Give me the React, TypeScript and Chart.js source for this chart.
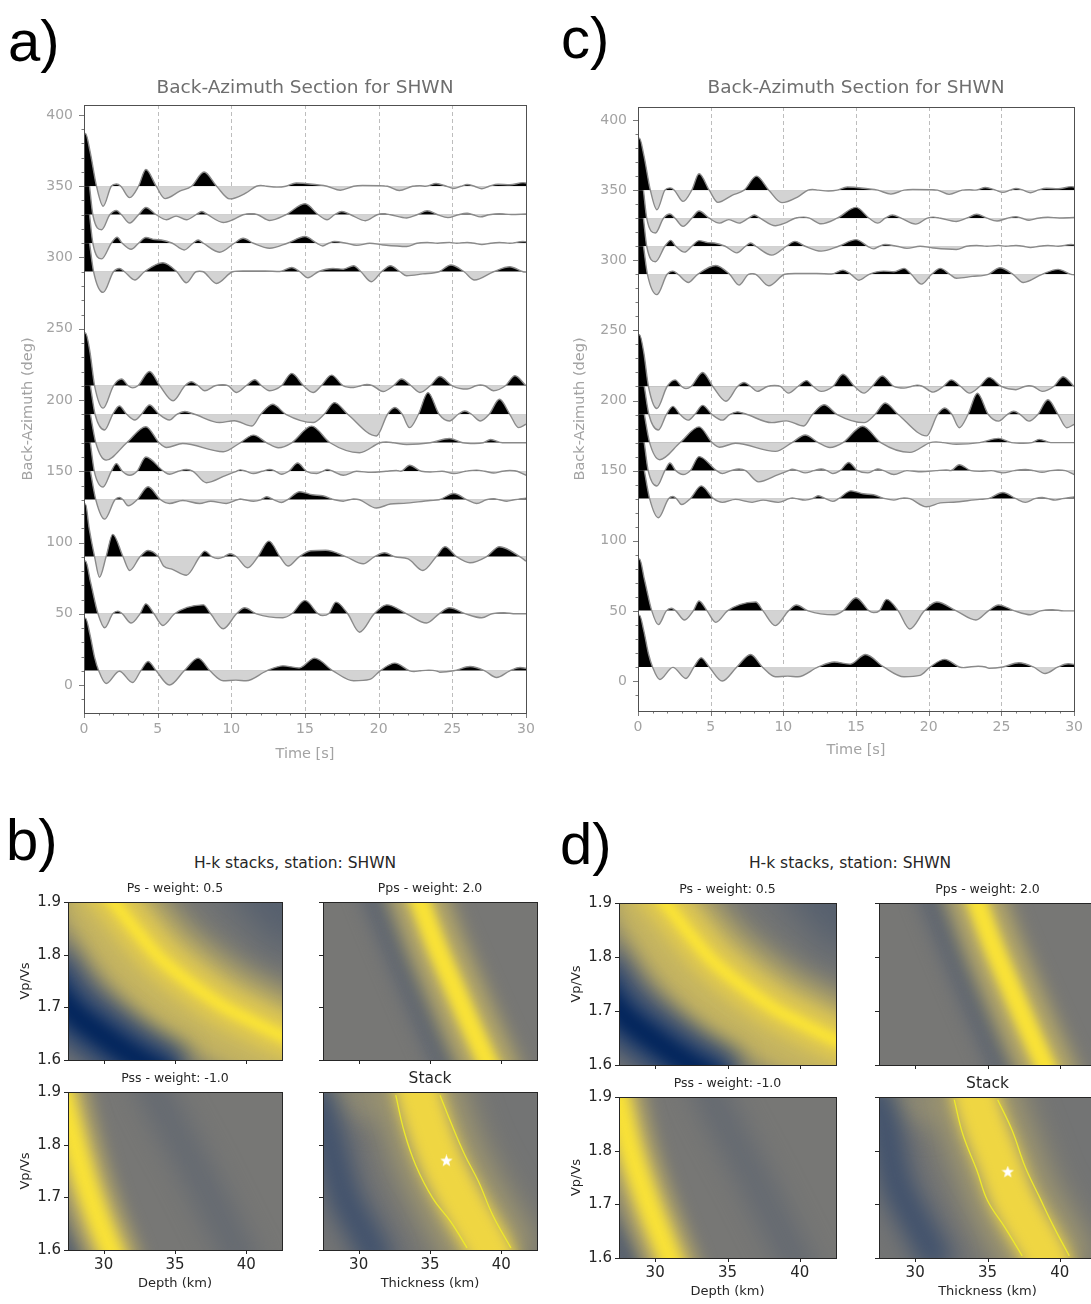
import React, { useEffect, useRef } from 'react';
import { Chart, registerables } from 'chart.js';

Chart.register(...registerables);

const FONT = '"DejaVu Sans", sans-serif';

// ---------------- Back-azimuth section data ----------------
const timeTickValues = [0, 5, 10, 15, 20, 25, 30];
const timeGridValues = [5, 10, 15, 20, 25];
const bazTickValues = [0, 50, 100, 150, 200, 250, 300, 350, 400];
const sectionBinsA = [350, 330, 310, 290, 210, 190, 170, 150, 130, 90, 50, 10];
const sectionBinsC = [350, 330, 310, 290, 210, 190, 170, 150, 130, 50, 10];

// [time (s), amplitude (deg units)]
const rf350 = [[0,36],[0.1,37],[0.4,25],[0.85,0],[1.3,-14],[1.85,0],[2.2,1.6],[2.5,0],[3.1,-8],[3.7,0],[4.2,11.7],[4.9,0],[5.5,-8.7],[6.5,-3.5],[7.3,0],[8.15,10],[9.0,0],[9.9,-8.9],[11.0,-4.7],[11.7,0],[12.0,0.5],[12.4,0],[13.1,-0.6],[13.7,0],[14.4,2.3],[15.8,1.0],[16.5,0],[17.4,-2.8],[18.3,0],[18.9,0.5],[20.1,0.3],[20.6,0],[21.4,-3],[22.3,0],[22.8,0.3],[23.2,0],[23.9,1.9],[24.6,0],[25.1,-1.6],[25.6,0],[26.0,1.2],[26.5,0],[27.0,-1.8],[27.5,0],[28.1,1.4],[28.9,1.0],[29.8,2.5],[30,2.3]];
const rf330 = [[0,36],[0.1,37],[0.35,22],[0.6,0],[1.2,-10.5],[1.75,0],[2.2,3],[2.55,0],[3.1,-5.8],[3.7,0],[4.2,5.1],[4.9,0],[5.6,-3.5],[6.25,-1],[6.95,-3.5],[7.6,0],[8.0,2.3],[8.4,0],[9.45,-5.4],[10.1,-3.5],[10.8,0],[11.4,0.8],[11.8,0],[12.6,-4],[13.7,0],[15.0,7.7],[15.9,0],[16.5,-3.5],[17.0,0],[17.5,2.3],[18.1,0],[19.1,-4.2],[19.9,0],[20.3,0.8],[20.8,0],[21.9,-2.3],[22.6,0],[23.3,2.8],[24.0,0],[24.7,-2],[25.4,0],[26.0,1],[26.4,0],[26.9,-1.5],[27.5,0],[28.2,0.7],[29.0,0.2],[30,0.5]];
const rf310 = [[0,36],[0.1,37],[0.35,22],[0.6,0],[1.2,-11],[1.85,0],[2.25,4.2],[2.6,0],[3.2,-4.2],[3.7,0],[4.2,4],[4.8,2.6],[5.25,2.3],[6.0,0],[6.8,-4.7],[7.4,0],[7.75,2.3],[8.1,0],[9.2,-6.3],[10.2,0],[10.8,3.5],[11.5,0],[12.6,-3.5],[13.8,0],[15.0,4.7],[15.8,0],[16.2,-1.9],[16.6,0],[17.0,1.2],[17.8,0],[18.5,-1.5],[19.4,0],[20.3,-1.2],[21.9,-2.3],[22.6,0],[23.3,0.5],[24.0,0],[24.8,0.6],[25.3,0],[26.0,0.5],[26.5,0],[27.0,-1],[27.6,0],[28.2,0.5],[28.9,0],[29.8,1.2],[30,1.1]];
const rf290 = [[0,36],[0.1,37],[0.35,22],[0.65,0],[1.3,-14.5],[2.0,0],[2.4,2.3],[2.75,0],[3.45,-5.8],[4.1,0],[5.35,6.3],[6.3,0],[6.95,-7.7],[7.6,0],[7.85,0.4],[8.1,0],[9.0,-8.2],[10.1,0],[10.8,0.6],[12.3,0.6],[13.3,0.2],[14.1,3],[14.65,0],[15.2,-4.2],[15.9,0],[16.9,2.3],[17.6,1.8],[18.3,4.2],[18.8,0],[19.5,-7],[20.2,0],[20.8,4.2],[21.45,0],[21.9,-2.8],[23.0,-1.5],[24.1,0],[24.9,4.7],[25.8,0],[26.5,-5.8],[27.8,0],[28.9,3.5],[29.8,0],[30,-0.3]];
const rf210 = [[0,36],[0.1,37],[0.4,24],[0.72,0],[1.3,-15.7],[2.0,0],[2.55,4.7],[3.0,0],[3.3,-1.5],[3.65,0],[4.45,10],[5.15,0],[6.05,-10.5],[6.85,0],[7.3,2.8],[7.75,0],[8.2,-3.5],[8.9,0],[9.4,0.8],[9.8,0],[10.35,-4.7],[11.0,0],[11.6,4.2],[12.05,0],[12.6,-3.5],[13.4,0],[14.1,8.7],[14.9,0],[15.55,-4.7],[16.1,0],[16.8,7.5],[17.6,0],[18.3,-1.2],[18.8,0],[19.2,1],[19.6,0],[20.3,-4],[21.0,0],[21.55,4.7],[22.2,0],[22.8,-4.7],[23.5,0],[24.15,6.5],[25.0,0],[26.0,-2.3],[26.6,0],[26.9,0.5],[27.2,0],[27.8,-3.5],[28.6,0],[29.25,7],[30,0]];
const rf190 = [[0,36],[0.1,37],[0.4,22],[0.75,0],[1.4,-11],[1.95,0],[2.4,5.8],[2.9,0],[3.45,-4],[3.9,0],[4.45,6.5],[5.1,0],[5.8,-4],[6.3,0],[6.85,1.9],[7.5,0],[9.2,-5.8],[10.2,-4.5],[11.4,-8.2],[12.0,0],[12.8,7],[13.7,0],[15.55,-5.8],[16.3,0],[17.0,8.2],[17.9,0],[19.85,-15.2],[20.6,0],[21.1,4.7],[21.6,0],[22.1,-9.4],[22.7,0],[23.35,15.2],[24.1,0],[24.8,-4.7],[25.4,0],[25.85,2.3],[26.3,0],[26.9,-4.7],[27.5,0],[28.2,10.5],[28.9,0],[29.5,-9.4],[30,-7]];
const rf170 = [[0,36],[0.1,37],[0.4,22],[0.8,0],[1.5,-12.2],[2.9,0],[4.2,11.2],[5.1,0],[5.6,-3.3],[6.7,-0.5],[9.45,-6.3],[10.6,0],[11.5,5.4],[12.4,0],[13.2,-3.5],[14.1,0],[15.45,11.7],[16.7,0],[18.7,-7],[20.1,0],[20.5,0.5],[21.0,0],[21.9,-1.2],[23.5,0],[24.8,3],[25.7,0],[26.5,-0.5],[27.1,0],[27.6,2.3],[28.4,0],[30,0]];
const rf150 = [[0,36],[0.1,37],[0.4,22],[0.7,0],[1.3,-11],[1.85,0],[2.2,5.4],[2.6,0],[3.1,-2.8],[3.6,0],[4.2,10],[5.4,0],[5.8,-2.1],[6.4,0],[6.95,1.2],[7.4,0],[8.3,-8],[9.6,-3],[10.35,0],[10.6,1],[11.0,0],[11.5,-1.6],[12.1,0],[12.6,1.2],[13.0,0],[13.4,-2.1],[13.9,0],[14.5,5.8],[15.1,0],[15.8,-1.6],[16.2,0],[16.5,1.2],[16.9,0],[17.6,-2.8],[18.5,0],[19.5,-0.8],[20.5,0],[21.2,0.5],[21.5,0],[22.1,4.2],[22.9,0],[23.5,-0.5],[24.3,0],[25.1,-1.6],[25.9,0],[26.65,0.8],[27.2,0],[27.8,-1.2],[28.4,0],[28.9,0.5],[29.4,0],[30,-2.8]];
const rf130 = [[0,36],[0.1,37],[0.4,22],[0.8,0],[1.4,-13.6],[2.1,0],[2.4,1.6],[2.65,0],[3.0,-4.2],[3.6,0],[4.35,9.1],[5.2,0],[5.8,-2.6],[6.7,-0.5],[7.85,-2.6],[8.6,-1],[9.65,-2.6],[10.4,0],[10.6,0.5],[10.9,0],[11.5,-1],[12.0,0],[12.4,2.1],[12.9,0],[13.4,-1.9],[13.8,0],[14.65,5.6],[15.5,3.5],[16.2,2.8],[17.0,0],[17.6,-1],[18.0,0],[18.3,0.5],[18.7,0],[19.85,-5.8],[20.8,-3],[21.7,-2.5],[23.5,-0.5],[24.1,0],[25.1,4.4],[26.0,0],[26.65,-2.6],[27.3,0],[27.8,0.8],[28.2,0],[28.7,-1],[29.2,0],[30,1.2]];
const rf90 = [[0,36],[0.1,37],[0.35,20],[0.72,0],[1.05,-14.3],[1.5,0],[1.95,15.7],[2.65,0],[3.1,-9.6],[3.8,0],[4.35,4.4],[5.05,0],[5.4,-6.5],[6.0,-8.8],[6.95,-12.9],[7.85,0],[8.2,4],[8.7,0],[9.1,-1.2],[9.5,0],[9.9,2.1],[10.35,0],[11.1,-7.7],[11.8,0],[12.55,11],[13.3,0],[13.85,-6.5],[14.6,0],[15.4,4.2],[16.4,4.6],[17.8,0],[18.95,-4.9],[19.7,0],[20.4,2.8],[21.1,0],[22.0,-1.5],[23.0,-9.6],[23.9,0],[24.5,7],[25.3,0],[26.2,-4.2],[27.3,0],[28.2,7],[29.6,0],[30,-3]];
const rf50 = [[0,36],[0.1,37],[0.45,22],[0.95,0],[1.4,-9.8],[1.95,0],[2.3,1.9],[2.6,0],[3.2,-6.5],[3.8,0],[4.2,7],[4.75,0],[5.35,-8.2],[6.15,0],[7.0,4.5],[8.1,6.3],[8.6,0],[9.45,-10.5],[10.35,0],[10.9,4.2],[11.7,0],[13.5,-2.8],[14.1,0],[15.0,9.4],[15.9,0],[16.2,-1.2],[16.6,0],[17.1,8.2],[17.9,0],[18.7,-12.9],[19.7,0],[20.55,6.3],[21.9,0],[23.25,-6.5],[24.1,0],[24.8,4.2],[25.9,0],[27.0,-2.8],[27.7,0],[28.5,0.8],[29.3,0],[30,0]];
const rf10 = [[0,36],[0.1,37],[0.4,25.7],[0.72,9.4],[1.0,0],[1.5,-8.9],[2.4,-0.3],[3.3,-8.2],[3.85,0],[4.35,6.5],[4.9,0],[5.8,-10],[6.8,0],[7.75,8.9],[8.55,0],[9.45,-7],[10.3,-6.5],[11.0,-7],[12.4,0],[13.5,3.5],[14.6,2],[15.65,8.9],[16.9,0],[18.3,-7],[19.4,-6],[20.1,0],[21.1,5.4],[22.1,0],[22.4,-0.5],[22.8,0],[23.4,0.5],[23.9,0],[24.15,-1],[25.1,0],[26.2,3],[27.2,0],[28.0,-4.7],[28.9,0],[29.6,2.3],[30,1.8]];

const rfTraces: Record<number, number[][]> = {
  350: rf350, 330: rf330, 310: rf310, 290: rf290, 210: rf210, 190: rf190,
  170: rf170, 150: rf150, 130: rf130, 90: rf90, 50: rf50, 10: rf10,
};

// ---------------- H-k stack data: ridges as [thickness km, Vp/Vs] ----------------
const hkXTicks = [30, 35, 40];
const hkYTicks = [1.6, 1.7, 1.8, 1.9];

const psYellowRidge = [[29.2,1.95],[30.7,1.9],[32.6,1.835],[34.4,1.782],[37.9,1.71],[40.2,1.676],[42.4,1.647],[44.0,1.63]];
const psYellowLowRidge = [[28.0,1.95],[29.5,1.86],[31.5,1.78],[34.0,1.71],[36.5,1.665],[39.0,1.63],[42.0,1.595],[44.0,1.58]];
const psBlueRidge = [[25.5,1.78],[27.5,1.70],[30.0,1.645],[32.5,1.6],[35.0,1.565]];
const psDarkCorner = [[39.5,1.98],[42.0,1.91],[44.5,1.83]];

const ppsYellowRidge = [[33.5,1.96],[34.3,1.9],[35.4,1.82],[36.5,1.75],[37.7,1.675],[38.95,1.6],[39.8,1.55]];
const ppsDarkRidge = [[30.4,1.96],[31.2,1.9],[33.5,1.75],[35.9,1.6],[36.7,1.55]];

const pssYellowRidgeB = [[26.9,1.92],[27.5,1.85],[28.6,1.74],[29.6,1.66],[30.5,1.6],[31.1,1.56]];
const pssDarkRidgeB = [[32.9,1.96],[33.6,1.9],[36.5,1.75],[39.3,1.6],[40.1,1.56]];
const pssCornerB = [[26.0,1.68],[27.6,1.6],[28.2,1.56]];
const pssYellowRidgeD = [[26.9,1.96],[27.5,1.89],[28.3,1.8],[29.4,1.71],[30.4,1.64],[31.0,1.6],[31.6,1.56]];
const pssDarkRidgeD = [[33.2,1.96],[33.9,1.9],[36.8,1.75],[39.6,1.6],[40.4,1.56]];
const pssCornerD = [[26.3,1.68],[28.0,1.6],[28.6,1.56]];

const stackCenterB = [[33.8,1.96],[34.15,1.9],[35.6,1.78],[37.05,1.7],[39.1,1.604],[39.8,1.56]];
const stackBlueB = [[26.8,1.92],[27.8,1.82],[29.0,1.7],[30.0,1.65],[31.0,1.6],[31.6,1.56]];
const stackOliveB = [[26.5,1.94],[29.0,1.9],[31.5,1.87]];
const stackContourLeftB = [[32.6,1.894],[33.2,1.824],[34.0,1.761],[35.2,1.698],[36.45,1.654],[37.6,1.604]];
const stackContourRightB = [[35.7,1.894],[36.45,1.843],[37.45,1.78],[38.4,1.73],[39.4,1.666],[40.67,1.604]];
const stackBestB = [[36.15,1.769]];

const stackCenterD = [[33.9,1.96],[34.2,1.895],[35.9,1.77],[36.8,1.707],[39.0,1.604],[39.7,1.56]];
const stackBlueD = [[27.0,1.93],[27.8,1.86],[28.7,1.74],[30.0,1.67],[30.9,1.626],[31.8,1.58]];
const stackOliveD = [[26.5,1.94],[29.0,1.9],[31.5,1.87]];
const stackContourLeftD = [[32.7,1.895],[33.3,1.83],[34.27,1.763],[35.0,1.707],[36.2,1.657],[37.4,1.604]];
const stackContourRightD = [[35.7,1.895],[36.7,1.838],[37.6,1.77],[38.6,1.713],[39.6,1.657],[40.65,1.604]];
const stackBestD = [[36.4,1.76]];

// ---------------- colormap ----------------
const CIVIDIS = [[0,35,90],[20,55,110],[55,75,108],[85,95,110],[108,110,114],[126,125,119],[150,144,115],[180,167,105],[210,190,90],[235,210,70],[253,230,50]];
function cividis(v: number): string {
  const t = Math.max(0, Math.min(1, v)) * 10;
  const i = Math.min(9, Math.floor(t));
  const f = t - i;
  const a = CIVIDIS[i], b = CIVIDIS[i + 1];
  const c = a.map((av, k) => Math.round(av + (b[k] - av) * f));
  return `rgb(${c[0]},${c[1]},${c[2]})`;
}

const xy = (pts: number[][]) => pts.map(([x, y]) => ({ x, y }));

// ---------------- Section chart ----------------
type SectionProps = {
  left: number; top: number; width: number; height: number;
  padTop: number; padRight: number; axisW: number; axisH: number;
  yMin: number; yMax: number; bins: number[];
  titleDy: number; xLabelDy: number; yLabelDx: number;
};

function Section(p: SectionProps) {
  const ref = useRef<HTMLCanvasElement>(null);
  useEffect(() => {
    const datasets: any[] = p.bins.map((baz, i) => ({
      data: xy(rfTraces[baz].map(([t, a]) => [t, baz + a])),
      borderColor: '#8a8a8a',
      borderWidth: 1.4,
      pointRadius: 0,
      cubicInterpolationMode: 'monotone',
      fill: { target: { value: baz }, above: '#000000', below: '#d3d3d3' },
      order: i,
    }));
    const deco = {
      id: 'sectionDeco',
      beforeDatasetsDraw(chart: any) {
        const { ctx, chartArea: a } = chart;
        const x = chart.scales.x;
        ctx.save();
        ctx.strokeStyle = '#bdbdbd';
        ctx.lineWidth = 1;
        ctx.setLineDash([4, 3]);
        for (const t of timeGridValues) {
          const px = Math.round(x.getPixelForValue(t)) + 0.5;
          ctx.beginPath(); ctx.moveTo(px, a.top); ctx.lineTo(px, a.bottom); ctx.stroke();
        }
        ctx.restore();
      },
      afterDraw(chart: any) {
        const { ctx, chartArea: a } = chart;
        const x = chart.scales.x, y = chart.scales.y;
        ctx.save();
        ctx.strokeStyle = '#7a7a7a';
        ctx.lineWidth = 1;
        const seg = (x0: number, y0: number, x1: number, y1: number) => { ctx.beginPath(); ctx.moveTo(x0, y0); ctx.lineTo(x1, y1); ctx.stroke(); };
        for (const v of bazTickValues) { const py = Math.round(y.getPixelForValue(v)) + 0.5; seg(a.left - 5, py, a.left, py); }
        for (let v = -10; v <= 400; v += 10) {
          if (v % 50 === 0 || v < p.yMin || v > p.yMax) continue;
          const py = Math.round(y.getPixelForValue(v)) + 0.5; seg(a.left - 2.5, py, a.left, py);
        }
        for (const v of timeTickValues) { const px = Math.round(x.getPixelForValue(v)) + 0.5; seg(px, a.bottom, px, a.bottom + 5); }
        for (let v = 1; v < 30; v++) {
          if (v % 5 === 0) continue;
          const px = Math.round(x.getPixelForValue(v)) + 0.5; seg(px, a.bottom, px, a.bottom + 2.5);
        }
        ctx.strokeStyle = '#505050';
        ctx.strokeRect(Math.round(a.left) + 0.5, Math.round(a.top) + 0.5, Math.round(a.right - a.left), Math.round(a.bottom - a.top));
        const cx = (a.left + a.right) / 2, cy = (a.top + a.bottom) / 2;
        ctx.textAlign = 'center';
        ctx.textBaseline = 'middle';
        ctx.fillStyle = '#6e6e6e';
        ctx.font = `18.5px ${FONT}`;
        ctx.fillText('Back-Azimuth Section for SHWN', cx, a.top + p.titleDy);
        ctx.fillStyle = '#a3a3a3';
        ctx.font = `14.5px ${FONT}`;
        ctx.fillText('Time [s]', cx, a.bottom + p.xLabelDy);
        ctx.translate(a.left + p.yLabelDx, cy);
        ctx.rotate(-Math.PI / 2);
        ctx.fillText('Back-Azimuth (deg)', 0, 0);
        ctx.restore();
      },
    };
    const tickFont = { family: FONT, size: 14 };
    const chart = new Chart(ref.current as HTMLCanvasElement, {
      type: 'line',
      data: { datasets },
      options: {
        animation: false,
        responsive: false,
        events: [],
        layout: { padding: { top: p.padTop, right: p.padRight, left: 0, bottom: 0 } },
        plugins: { legend: { display: false }, tooltip: { enabled: false }, title: { display: false } },
        scales: {
          x: {
            type: 'linear', min: 0, max: 30,
            afterFit: (s: any) => { s.height = p.axisH; },
            afterBuildTicks: (s: any) => { s.ticks = timeTickValues.map((v) => ({ value: v })); },
            ticks: { color: '#a3a3a3', font: tickFont, padding: 8, autoSkip: false, maxRotation: 0, callback: (v: any) => String(v) },
            grid: { display: false, drawTicks: false },
            border: { display: false },
          },
          y: {
            type: 'linear', min: p.yMin, max: p.yMax,
            afterFit: (s: any) => { s.width = p.axisW; },
            afterBuildTicks: (s: any) => { s.ticks = bazTickValues.map((v) => ({ value: v })); },
            ticks: { color: '#a3a3a3', font: tickFont, padding: 11, autoSkip: false, callback: (v: any) => String(v) },
            grid: { display: false, drawTicks: false },
            border: { display: false },
          },
        },
      } as any,
      plugins: [deco],
    });
    return () => chart.destroy();
  }, []);
  return <canvas ref={ref} width={p.width} height={p.height} style={{ position: 'absolute', left: p.left, top: p.top }} />;
}

// ---------------- H-k heat panel ----------------
type Layer = { pts: number[][]; level: number; width: number; blur: number };
type HeatProps = {
  area: number[]; bg: number; layers: Layer[];
  contours?: number[][][]; best?: number[][];
  title: string; titleSize: number; xLabel?: string; yLabel?: string;
};
const ML = 62, MT = 34, MR = 14, MB = 52;

const blurPlugin = {
  id: 'blurLayers',
  beforeDatasetDraw(chart: any, args: any) {
    const ds = chart.data.datasets[args.index];
    if (ds.blur) { chart.ctx.save(); chart.ctx.filter = `blur(${ds.blur}px)`; }
  },
  afterDatasetDraw(chart: any, args: any) {
    const ds = chart.data.datasets[args.index];
    if (ds.blur) chart.ctx.restore();
  },
};

function makeStar(size: number) {
  const c = document.createElement('canvas');
  c.width = size; c.height = size;
  const g = c.getContext('2d') as CanvasRenderingContext2D;
  g.fillStyle = '#ffffff';
  g.beginPath();
  for (let i = 0; i < 10; i++) {
    const r = i % 2 === 0 ? size / 2 : size / 4.8;
    const ang = -Math.PI / 2 + (i * Math.PI) / 5;
    g.lineTo(size / 2 + r * Math.cos(ang), size / 2 + r * Math.sin(ang));
  }
  g.closePath();
  g.fill();
  return c;
}

function HeatPanel(p: HeatProps) {
  const ref = useRef<HTMLCanvasElement>(null);
  const [l, t, r, b] = p.area;
  const W = r - l + ML + MR, H = b - t + MT + MB;
  useEffect(() => {
    const ds: any[] = p.layers.map((ly) => ({
      data: xy(ly.pts), borderColor: cividis(ly.level), borderWidth: ly.width, blur: ly.blur,
      tension: 0.4, capBezierPoints: false, pointRadius: 0, fill: false, borderJoinStyle: 'round',
    }));
    (p.contours || []).forEach((c) => ds.push({
      data: xy(c), borderColor: '#eeea2a', borderWidth: 1.3, tension: 0.4, capBezierPoints: false, pointRadius: 0, fill: false,
    }));
    if (p.best) ds.push({ data: xy(p.best), showLine: false, pointStyle: makeStar(13), pointRadius: 6, pointBorderWidth: 0 });
    ds.forEach((d, i) => { d.order = -i; });
    const bgPlugin = {
      id: 'hkBg',
      beforeDatasetsDraw(chart: any) {
        const { ctx, chartArea: a } = chart;
        ctx.save(); ctx.fillStyle = cividis(p.bg); ctx.fillRect(a.left, a.top, a.right - a.left, a.bottom - a.top); ctx.restore();
      },
    };
    const deco = {
      id: 'hkDeco',
      afterDraw(chart: any) {
        const { ctx, chartArea: a } = chart;
        const x = chart.scales.x, y = chart.scales.y;
        ctx.save();
        ctx.strokeStyle = '#262626';
        ctx.lineWidth = 1;
        const seg = (x0: number, y0: number, x1: number, y1: number) => { ctx.beginPath(); ctx.moveTo(x0, y0); ctx.lineTo(x1, y1); ctx.stroke(); };
        for (const v of hkXTicks) { const px = Math.round(x.getPixelForValue(v)) + 0.5; seg(px, a.bottom, px, a.bottom + 4); }
        for (const v of hkYTicks) { const py = Math.round(y.getPixelForValue(v)) + 0.5; seg(a.left - 4, py, a.left, py); }
        ctx.strokeRect(Math.round(a.left) + 0.5, Math.round(a.top) + 0.5, Math.round(a.right - a.left), Math.round(a.bottom - a.top));
        ctx.fillStyle = '#262626';
        ctx.textAlign = 'center';
        ctx.textBaseline = 'middle';
        const cx = (a.left + a.right) / 2, cy = (a.top + a.bottom) / 2;
        ctx.font = `${p.titleSize}px ${FONT}`;
        ctx.fillText(p.title, cx, a.top - 13);
        ctx.font = `13px ${FONT}`;
        if (p.xLabel) ctx.fillText(p.xLabel, cx, a.bottom + 34);
        if (p.yLabel) {
          ctx.translate(a.left - 42, cy);
          ctx.rotate(-Math.PI / 2);
          ctx.fillText(p.yLabel, 0, 0);
        }
        ctx.restore();
      },
    };
    const tickFont = { family: FONT, size: 15 };
    const chart = new Chart(ref.current as HTMLCanvasElement, {
      type: 'line',
      data: { datasets: ds },
      options: {
        animation: false,
        responsive: false,
        events: [],
        layout: { padding: { top: MT, right: MR, left: 0, bottom: 0 } },
        plugins: { legend: { display: false }, tooltip: { enabled: false }, title: { display: false } },
        scales: {
          x: {
            type: 'linear', min: 27.5, max: 42.5,
            afterFit: (s: any) => { s.height = MB; },
            afterBuildTicks: (s: any) => { s.ticks = hkXTicks.map((v) => ({ value: v })); },
            ticks: { display: !!p.xLabel, color: '#262626', font: tickFont, padding: 6, autoSkip: false, maxRotation: 0, callback: (v: any) => String(v) },
            grid: { display: false, drawTicks: false },
            border: { display: false },
          },
          y: {
            type: 'linear', min: 1.6, max: 1.9,
            afterFit: (s: any) => { s.width = ML; },
            afterBuildTicks: (s: any) => { s.ticks = hkYTicks.map((v) => ({ value: v })); },
            ticks: { display: !!p.yLabel, color: '#262626', font: tickFont, padding: 7, autoSkip: false, callback: (v: any) => Number(v).toFixed(1) },
            grid: { display: false, drawTicks: false },
            border: { display: false },
          },
        },
      } as any,
      plugins: [bgPlugin, blurPlugin, deco],
    });
    return () => chart.destroy();
  }, []);
  return <canvas ref={ref} width={W} height={H} style={{ position: 'absolute', left: l - ML, top: t - MT }} />;
}

// ---------------- layer styles ----------------
const psLayers: Layer[] = [
  { pts: psDarkCorner, level: 0.3, width: 70, blur: 20 },
  { pts: psYellowRidge, level: 0.75, width: 80, blur: 14 },
  { pts: psYellowLowRidge, level: 0.76, width: 52, blur: 14 },
  { pts: psBlueRidge, level: 0.16, width: 58, blur: 12 },
  { pts: psBlueRidge, level: 0.01, width: 22, blur: 7 },
  { pts: psYellowRidge, level: 0.86, width: 40, blur: 8 },
  { pts: psYellowRidge, level: 0.99, width: 12, blur: 4 },
];
const ppsLayers: Layer[] = [
  { pts: ppsDarkRidge, level: 0.34, width: 24, blur: 9 },
  { pts: ppsYellowRidge, level: 0.72, width: 54, blur: 10 },
  { pts: ppsYellowRidge, level: 0.98, width: 20, blur: 5 },
];
const pssLayers = (yellow: number[][], dark: number[][], corner: number[][]): Layer[] => [
  { pts: dark, level: 0.37, width: 34, blur: 12 },
  { pts: corner, level: 0.3, width: 22, blur: 8 },
  { pts: yellow, level: 0.74, width: 48, blur: 9 },
  { pts: yellow, level: 0.98, width: 22, blur: 6 },
];
const stackLayers = (center: number[][], blue: number[][], olive: number[][]): Layer[] => [
  { pts: olive, level: 0.58, width: 34, blur: 14 },
  { pts: center, level: 0.66, width: 84, blur: 16 },
  { pts: blue, level: 0.22, width: 32, blur: 12 },
  { pts: center, level: 0.92, width: 44, blur: 7 },
];

function Label({ text, left, baseline, size }: { text: string; left: number; baseline: number; size: number }) {
  return (
    <div style={{ position: 'absolute', left, top: baseline - size * 0.8465, font: `${size}px "Liberation Sans", Arial, sans-serif`, lineHeight: `${size}px`, color: '#000', whiteSpace: 'nowrap' }}>{text}</div>
  );
}

function SupTitle({ text, cx, cy }: { text: string; cx: number; cy: number }) {
  return (
    <div style={{ position: 'absolute', left: cx - 200, width: 400, top: cy - 10, textAlign: 'center', font: `15.5px ${FONT}`, lineHeight: '20px', color: '#262626', whiteSpace: 'nowrap' }}>{text}</div>
  );
}

export default function App() {
  return (
    <div style={{ position: 'absolute', left: 0, top: 0, width: 1091, height: 1304, overflow: 'hidden', background: '#ffffff' }}>
      <Label text="a)" left={8} baseline={61} size={58} />
      <Label text="c)" left={561} baseline={58} size={58} />
      <Label text="b)" left={6} baseline={860} size={58} />
      <Label text="d)" left={560} baseline={864} size={58} />

      <Section left={0} top={70} width={545} height={700} padTop={35} padRight={19} axisW={84} axisH={57}
        yMin={-19.6} yMax={407} bins={sectionBinsA} titleDy={-17} xLabelDy={41} yLabelDx={-56} />
      <Section left={554} top={70} width={537} height={700} padTop={37} padRight={14} axisW={84} axisH={59}
        yMin={-21.4} yMax={409.3} bins={sectionBinsC} titleDy={-19} xLabelDy={39} yLabelDx={-58} />

      <SupTitle text="H-k stacks, station: SHWN" cx={295} cy={863} />
      <SupTitle text="H-k stacks, station: SHWN" cx={850} cy={863} />

      <HeatPanel area={[68, 902, 282, 1060]} bg={0.45} layers={psLayers} title="Ps - weight: 0.5" titleSize={12.5} yLabel="Vp/Vs" />
      <HeatPanel area={[323, 902, 537, 1060]} bg={0.46} layers={ppsLayers} title="Pps - weight: 2.0" titleSize={12.5} />
      <HeatPanel area={[68, 1092, 282, 1250]} bg={0.46} layers={pssLayers(pssYellowRidgeB, pssDarkRidgeB, pssCornerB)} title="Pss - weight: -1.0" titleSize={12.5} xLabel="Depth (km)" yLabel="Vp/Vs" />
      <HeatPanel area={[323, 1092, 537, 1250]} bg={0.44} layers={stackLayers(stackCenterB, stackBlueB, stackOliveB)} contours={[stackContourLeftB, stackContourRightB]} best={stackBestB} title="Stack" titleSize={15.5} xLabel="Thickness (km)" />

      <HeatPanel area={[619, 903, 836, 1065]} bg={0.45} layers={psLayers} title="Ps - weight: 0.5" titleSize={12.5} yLabel="Vp/Vs" />
      <HeatPanel area={[879, 903, 1096, 1065]} bg={0.46} layers={ppsLayers} title="Pps - weight: 2.0" titleSize={12.5} />
      <HeatPanel area={[619, 1097, 836, 1258]} bg={0.46} layers={pssLayers(pssYellowRidgeD, pssDarkRidgeD, pssCornerD)} title="Pss - weight: -1.0" titleSize={12.5} xLabel="Depth (km)" yLabel="Vp/Vs" />
      <HeatPanel area={[879, 1097, 1096, 1258]} bg={0.44} layers={stackLayers(stackCenterD, stackBlueD, stackOliveD)} contours={[stackContourLeftD, stackContourRightD]} best={stackBestD} title="Stack" titleSize={15.5} xLabel="Thickness (km)" />
    </div>
  );
}
